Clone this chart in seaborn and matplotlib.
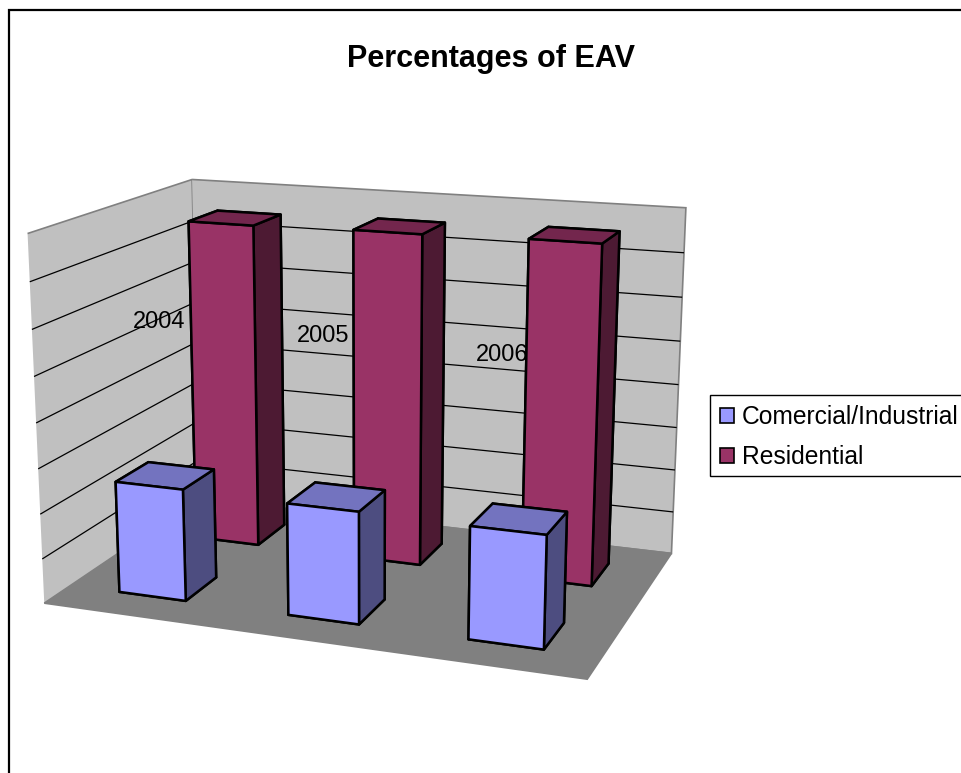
import matplotlib
matplotlib.use("Agg")
import matplotlib.pyplot as plt
from matplotlib.patches import Patch, Rectangle
import seaborn as sns

# Data
years = ["2004", "2005", "2006"]
series_names = ["Comercial/Industrial", "Residential"]
comercial = [25, 24.6, 24.3]
residential = [75, 75.5, 76]
z_ticks = [10, 20, 30, 40, 50, 60, 70]

sns.set_theme(style="white")
plt.rcParams["font.family"] = ["Liberation Sans", "DejaVu Sans"]
plt.rcParams["grid.color"] = "black"
plt.rcParams["grid.linewidth"] = 0.9

palette = sns.color_palette(["#9999FF", "#993366"])


def shaded(color, k):
    return tuple(c * k for c in color)


W, H = 961, 773
fig = plt.figure(figsize=(W / 100, H / 100), dpi=100, facecolor="white")

# axes placed by pixels of the reference, square
side = 733
center_x, center_y = 359, 413
ax = fig.add_axes([(center_x - side / 2) / W, (H - center_y - side / 2) / H, side / W, side / H],
                  projection="3d", facecolor="none")
ax.set_proj_type("persp", focal_length=0.50)
ax.view_init(elev=15, azim=-69.7)
ax.set_box_aspect((533, 350, 358))

# one row of bars per series, commercial in front
for row, (values, color) in enumerate(zip([comercial, residential], palette)):
    # faces: bottom, top, front, back, left, right
    face_colors = [color, shaded(color, 0.75), color, color, shaded(color, 0.5), shaded(color, 0.5)]
    for i, v in enumerate(values):
        ax.bar3d(i + 0.3, row * 0.5 + 0.15, 0, 0.4, 0.2, v, color=face_colors,
                 edgecolor="black", linewidth=1.8, shade=False)

ax.set_xticks([])
ax.set_yticks([])
ax.set_zticks(z_ticks)
ax.set_zticklabels([])
ax.set_xlim(0, 3, view_margin=0)
ax.set_ylim(0, 1, view_margin=0)
ax.set_zlim(0, 80, view_margin=0)
ax.grid(True)

ax.xaxis.set_pane_color("#C0C0C0")
ax.yaxis.set_pane_color("#C0C0C0")
ax.zaxis.set_pane_color("#808080")
for axis in [ax.xaxis, ax.yaxis, ax.zaxis]:
    axis.pane.set_edgecolor("#808080")
    axis.pane.set_linewidth(1.2)
    axis.line.set_color("none")
    axis._axinfo["tick"]["inward_factor"] = 0
    axis._axinfo["tick"]["outward_factor"] = 0

# year labels sit on the walls in the original
fig.text(159 / W, 1 - 322 / H, years[0], ha="center", va="center", fontsize=17, color="black")
fig.text(323 / W, 1 - 336 / H, years[1], ha="center", va="center", fontsize=17, color="black")
fig.text(502 / W, 1 - 355 / H, years[2], ha="center", va="center", fontsize=17, color="black")

fig.text(491.5 / W, 1 - 59 / H, "Percentages of EAV", ha="center", va="center",
         fontsize=22, fontweight="bold", color="black")

# legend frame drawn apart so its height can match, it runs off the right edge
fig.add_artist(Rectangle((710 / W, 1 - 476 / H), 270 / W, 81 / H, transform=fig.transFigure,
                         facecolor="white", edgecolor="black", linewidth=1))
handles = [Patch(facecolor=palette[0], edgecolor="black", linewidth=1.2, label=series_names[0]),
           Patch(facecolor=palette[1], edgecolor="black", linewidth=1.2, label=series_names[1])]
fig.legend(handles=handles, loc="upper left", bbox_to_anchor=(710 / W, 1 - 395 / H),
           borderaxespad=0, frameon=False, fontsize=17.7, handlelength=0.56, handleheight=0.56,
           handletextpad=0.33, labelspacing=0.64, borderpad=0.42, labelcolor="black")

# chart border runs off the right and bottom of the picture
fig.add_artist(Rectangle((8.5 / W, -0.02), 1.05, 1 + 0.02 - 9.5 / H, transform=fig.transFigure,
                         facecolor="none", edgecolor="black", linewidth=1.6))

fig.savefig("out.png", dpi=100)
